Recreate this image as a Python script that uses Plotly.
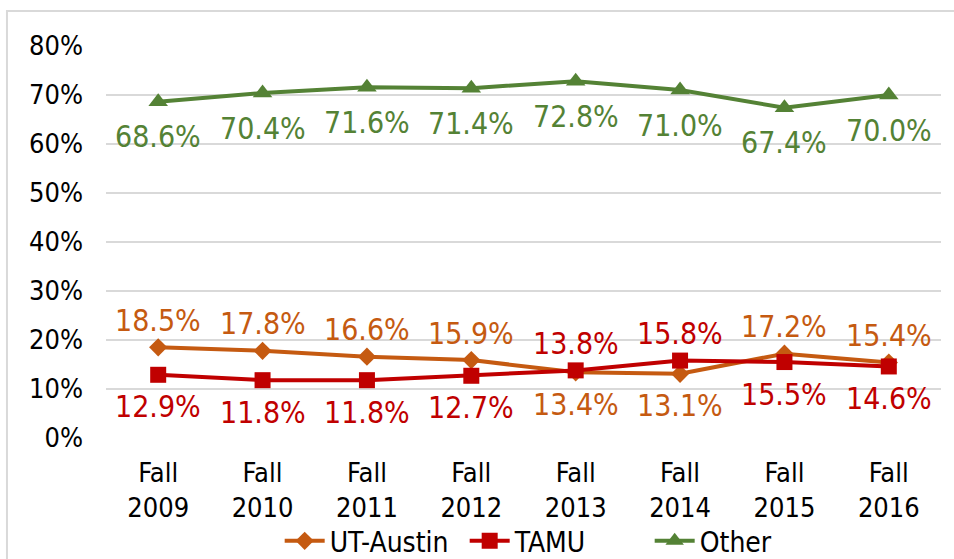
import plotly.graph_objects as go

categories = ["Fall<br>2009", "Fall<br>2010", "Fall<br>2011", "Fall<br>2012",
              "Fall<br>2013", "Fall<br>2014", "Fall<br>2015", "Fall<br>2016"]
ut_austin = [18.5, 17.8, 16.6, 15.9, 13.4, 13.1, 17.2, 15.4]
tamu = [12.9, 11.8, 11.8, 12.7, 13.8, 15.8, 15.5, 14.6]
other = [68.6, 70.4, 71.6, 71.4, 72.8, 71.0, 67.4, 70.0]
ut_label_pos = ["above", "above", "above", "above", "below", "below", "above", "above"]
tamu_label_pos = ["below", "below", "below", "below", "above", "above", "below", "below"]
other_label_pos = ["below"] * 8
y_ticks = [0, 10, 20, 30, 40, 50, 60, 70, 80]

FONT = "DejaVu Sans Condensed, Liberation Sans, Arial, sans-serif"
C_UT = "#C55A11"
C_TAMU = "#C00000"
C_OTHER = "#548235"

fig = go.Figure()
series = [
    ("UT-Austin", ut_austin, C_UT, "diamond", 14, ut_label_pos),
    ("TAMU", tamu, C_TAMU, "square", 16, tamu_label_pos),
    ("Other", other, C_OTHER, "triangle-up", 17, other_label_pos),
]
for name, vals, col, sym, sz, pos in series:
    fig.add_trace(go.Scatter(
        x=categories, y=vals, name=name, mode="lines+markers",
        line=dict(color=col, width=4),
        marker=dict(symbol=sym, size=sz, color=col),
    ))

annotations = []
for name, vals, col, sym, sz, pos in series:
    for c, v, p in zip(categories, vals, pos):
        if name == "Other":
            shift = -35
        elif p == "above":
            shift = 27
        else:
            shift = -32
        annotations.append(dict(
            x=c, y=v, text=f"{v:.1f}%", showarrow=False, yshift=shift,
            xanchor="center", yanchor="middle",
            font=dict(family=FONT, size=30, color=col),
        ))

fig.update_layout(
    width=954, height=559,
    margin=dict(l=106, r=13, t=46, b=121, autoexpand=False),
    paper_bgcolor="white", plot_bgcolor="white",
    font=dict(family=FONT, color="#000000"),
    showlegend=True,
    legend=dict(orientation="h", x=0.208, xanchor="left", y=-0.263, yanchor="middle",
                font=dict(family=FONT, size=28, color="#000000"),
                itemwidth=40, entrywidth=130, entrywidthmode="pixels",
                bgcolor="rgba(0,0,0,0)"),
    annotations=annotations,
    shapes=[dict(type="rect", xref="paper", yref="paper",
                 x0=-0.1186, x1=1.06, y0=-0.4, y1=1.0893,
                 line=dict(color="#D9D9D9", width=2), layer="below")],
)
fig.update_xaxes(
    type="category", range=[-0.5, 7.5], showgrid=False, showline=False,
    zeroline=False, ticks="", ticklabelstandoff=16,
    tickfont=dict(family=FONT, size=27, color="#000000"),
)
fig.update_yaxes(
    range=[0, 80], tickvals=y_ticks, ticktext=[f"{t}%" for t in y_ticks],
    showgrid=True, gridcolor="#D9D9D9", gridwidth=1.5, zeroline=False, showline=False,
    ticks="", ticklabelstandoff=22, tickfont=dict(family=FONT, size=27, color="#000000"),
)
fig.write_html(
    "out.html",
    config={"displayModeBar": False},
    post_script="document.body.style.margin='0';document.body.style.overflow='hidden';",
)
